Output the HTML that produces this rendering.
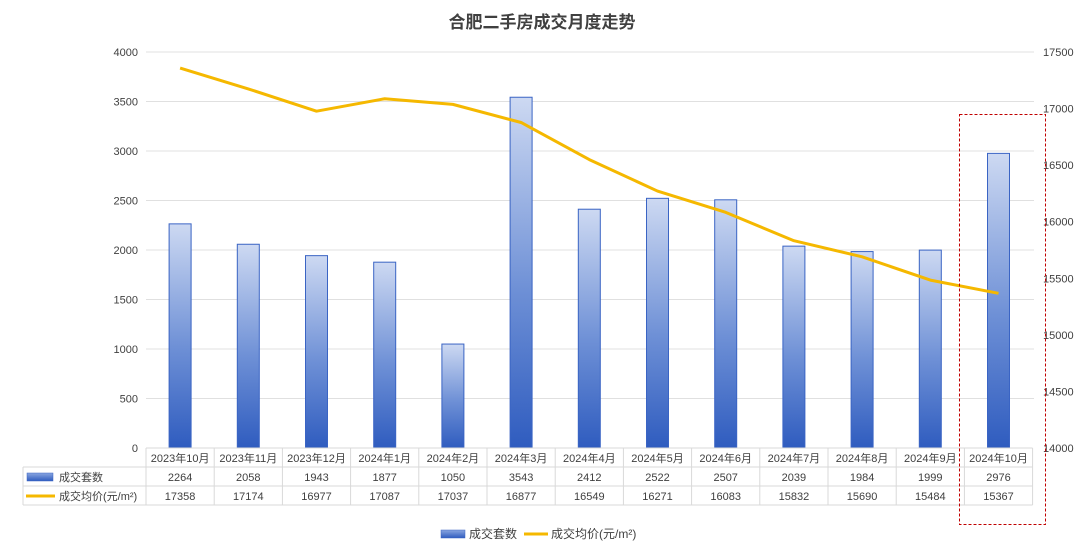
<!DOCTYPE html>
<html><head><meta charset="utf-8"><style>
body{margin:0;background:#fff;}
text{font-family:"Liberation Sans","Noto Sans CJK SC",sans-serif;}
</style></head><body>
<svg width="1084" height="554" xmlns="http://www.w3.org/2000/svg">
<defs>
<linearGradient id="g" x1="0" y1="0" x2="0" y2="1">
<stop offset="0" stop-color="#cdd9f2"/><stop offset="0.55" stop-color="#6e90d6"/><stop offset="1" stop-color="#2f5cbf"/>
</linearGradient>
<linearGradient id="lg" x1="0" y1="0" x2="0" y2="1">
<stop offset="0" stop-color="#8aa6e0"/><stop offset="1" stop-color="#2f5cbf"/>
</linearGradient>
</defs>
<text x="542" y="28" text-anchor="middle" font-size="17" font-weight="bold" fill="#404040">合肥二手房成交月度走势</text>
<g id="grid" stroke="#e0e0e0" stroke-width="1"></g>
<g id="bars"></g>
<g id="tbl"></g>
<polyline id="line" fill="none" stroke="#f5b800" stroke-width="3" stroke-linejoin="round"/>
<rect x="959.5" y="114.5" width="86" height="410" fill="none" stroke="#c00000" stroke-dasharray="3,2"/>
<rect x="441" y="530" width="24" height="8" fill="url(#lg)" stroke="#3a64c4" stroke-width="0.5"/>
<text x="469" y="538" font-size="12" fill="#404040">成交套数</text>
<line x1="524" y1="534" x2="548" y2="534" stroke="#f5b800" stroke-width="3"/>
<text x="551" y="538" font-size="12" fill="#404040">成交均价(元/m²)</text>
</svg>
<script>
(function(){
var NS="http://www.w3.org/2000/svg";
function el(p,t,a,txt){var e=document.createElementNS(NS,t);for(var k in a)e.setAttribute(k,a[k]);if(txt!==undefined)e.textContent=txt;document.getElementById(p).appendChild(e);return e;}
var cats=["2023年10月","2023年11月","2023年12月","2024年1月","2024年2月","2024年3月","2024年4月","2024年5月","2024年6月","2024年7月","2024年8月","2024年9月","2024年10月"];
var v=[2264,2058,1943,1877,1050,3543,2412,2522,2507,2039,1984,1999,2976];
var p=[17358,17174,16977,17087,17037,16877,16549,16271,16083,15832,15690,15484,15367];
var X0=146,cw=68.2,Y0=448,H=396;
for(var i=0;i<=8;i++){var y=Y0-i*H/8;
 if(i>0)el("grid","line",{x1:X0,x2:1034,y1:y,y2:y});
 el("grid","text",{x:138,y:y+4,"text-anchor":"end","font-size":11,fill:"#404040",stroke:"none"},i*500);}
for(var k=0;k<=7;k++){var yy=Y0-k*H/7;
 el("grid","text",{x:1043,y:yy+4,"font-size":11,fill:"#404040",stroke:"none"},14000+k*500);}
var pts=[];
cats.forEach(function(c,i){var cx=X0+cw*(i+0.5);var h=v[i]*H/4000;
 el("bars","rect",{x:cx-11,y:Y0-h,width:22,height:h,fill:"url(#g)",stroke:"#3a64c4","stroke-width":1});
 pts.push(cx+","+(Y0-(p[i]-14000)*H/3500));
 el("tbl","text",{x:cx,y:462,"text-anchor":"middle","font-size":11,fill:"#404040"},c);
 el("tbl","text",{x:cx,y:481,"text-anchor":"middle","font-size":11,fill:"#404040"},v[i]);
 el("tbl","text",{x:cx,y:500,"text-anchor":"middle","font-size":11,fill:"#404040"},p[i]);
});
document.getElementById("line").setAttribute("points",pts.join(" "));
var X1=X0+cw*13;
[[X0,448,X1,448],[23,467,X1,467],[23,486,X1,486],[23,505,X1,505]].forEach(function(a){el("tbl","line",{x1:a[0],y1:a[1],x2:a[2],y2:a[3],stroke:"#d9d9d9"});});
el("tbl","line",{x1:23,y1:467,x2:23,y2:505,stroke:"#d9d9d9"});
for(var j=0;j<=13;j++){var x=X0+cw*j;el("tbl","line",{x1:x,y1:448,x2:x,y2:505,stroke:"#d9d9d9"});}
el("tbl","rect",{x:27,y:473,width:26,height:8,fill:"url(#lg)",stroke:"#3a64c4","stroke-width":0.5});
el("tbl","text",{x:59,y:481,"font-size":11,fill:"#404040"},"成交套数");
el("tbl","line",{x1:26,y1:496,x2:55,y2:496,stroke:"#f5b800","stroke-width":3});
el("tbl","text",{x:59,y:500,"font-size":11,fill:"#404040"},"成交均价(元/m²)");
})();
</script>
</body></html>
